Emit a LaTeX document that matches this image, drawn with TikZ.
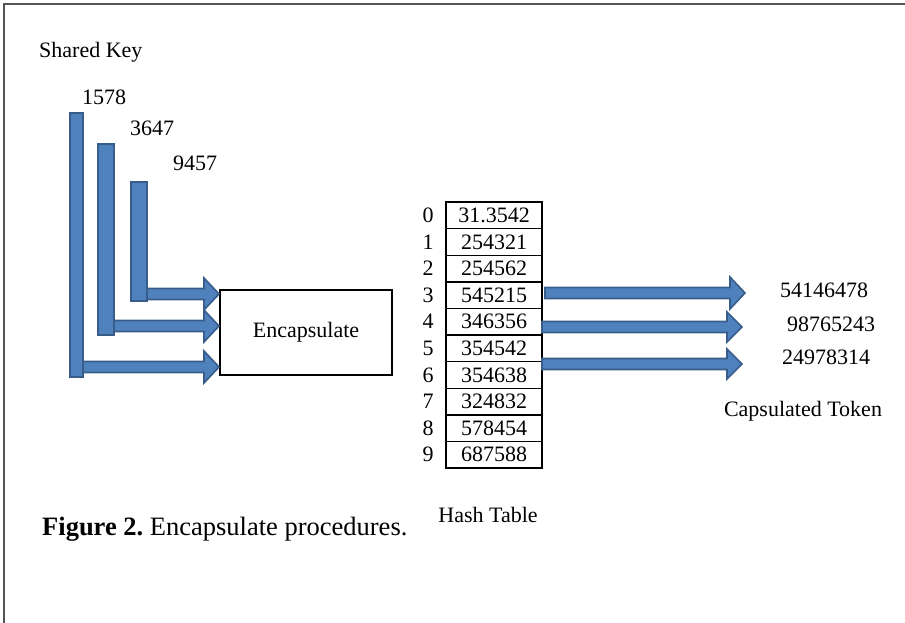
\documentclass[tikz,border=0pt]{standalone}
\usepackage{fontspec}
\setmainfont{Liberation Serif}
\definecolor{arrfill}{HTML}{4F81BD}
\definecolor{arrline}{HTML}{385D8A}
\definecolor{framec}{HTML}{555555}
\newcommand{\blockarr}[4]{% x1, x2 (tip), y center, head half height
  \filldraw[barrowsty] (#1,#3-5.5) -- (#2-15,#3-5.5) -- (#2-15,#3-#4) -- (#2,#3)
    -- (#2-15,#3+#4) -- (#2-15,#3+5.5) -- (#1,#3+5.5) -- cycle;}
\begin{document}
\begin{tikzpicture}[x=1pt,y=-1pt,
  txt/.style={font=\fontsize{22}{25}\selectfont, inner sep=0pt},
  barrowsty/.style={fill=arrfill, draw=arrline, line width=1.6pt, line join=miter},
  barsty/.style={fill=arrfill, draw=arrline, line width=1.6pt},
  cell/.style={draw, line width=1.4pt, minimum width=96pt, minimum height=26.6pt, inner sep=0pt, font=\fontsize{22}{25}\selectfont},
  boxsty/.style={draw, line width=1.4pt, minimum width=172pt, minimum height=85pt, inner sep=0pt, font=\fontsize{22}{25}\selectfont}]
\useasboundingbox (0,0) rectangle (905,623);
% frame
\draw[framec, line width=1.2pt] (4,623) -- (4,4) -- (905,4);
% texts
\node[txt, anchor=west] (sk) at (39,52) {Shared Key};
\node[txt, anchor=west] (k1) at (82,97) {1578};
\node[txt, anchor=west] (k2) at (130,128) {3647};
\node[txt, anchor=west] (k3) at (173,163) {9457};
% bars
\draw[barsty] (70,113) rectangle (83,377);
\draw[barsty] (98,144) rectangle (114,335);
\draw[barsty] (131,182) rectangle (147,301);
% encapsulate box
\node[boxsty] (enc) at (306,332.5) {Encapsulate};
% left arrows
\blockarr{147}{219}{294}{16}
\blockarr{114}{219}{326}{16}
\blockarr{83}{219}{367}{16}
% hash table
\foreach \i/\v in {0/31.3542,1/254321,2/254562,3/545215,4/346356,5/354542,6/354638,7/324832,8/578454,9/687588}{
  \node[cell] (c\i) at (494,{215.3+26.6*\i}) {\v};
  \node[txt] (n\i) at (428,{215.3+26.6*\i}) {\i};
}
% right arrows
\blockarr{545}{745}{293}{16}
\blockarr{542}{742}{327}{15}
\blockarr{542}{742}{364}{15}
\node[txt] (t1) at (824,290) {54146478};
\node[txt] (t2) at (831,324) {98765243};
\node[txt] (t3) at (826,357) {24978314};
\node[txt] (ct) at (803,411) {Capsulated Token};
\node[txt] (ht) at (488,515) {Hash Table};
\node[anchor=west, inner sep=0pt, font=\fontsize{26.5}{30}\selectfont] (cap) at (42,529) {\frenchspacing\textbf{Figure 2.} Encapsulate procedures.};
\end{tikzpicture}
\end{document}
